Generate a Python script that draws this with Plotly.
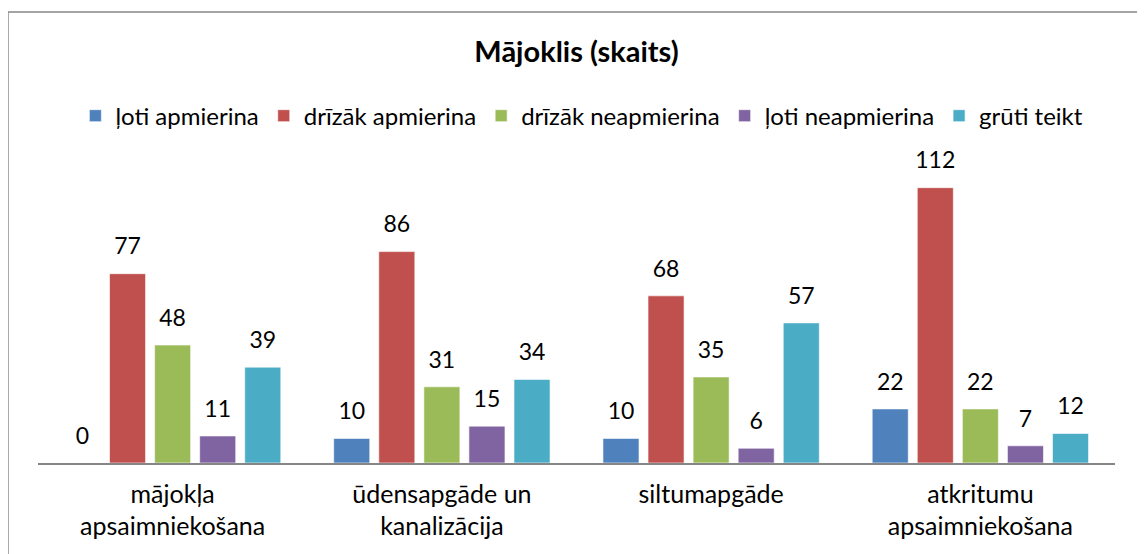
import plotly.graph_objects as go

# data
categories = ["mājokļa<br>apsaimniekošana", "ūdensapgāde un<br>kanalizācija",
              "siltumapgāde", "atkritumu<br>apsaimniekošana"]
series_names = ["ļoti apmierina", "drīzāk apmierina", "drīzāk neapmierina",
                "ļoti neapmierina", "grūti teikt"]
loti_apmierina = [0, 10, 10, 22]
drizak_apmierina = [77, 86, 68, 112]
drizak_neapmierina = [48, 31, 35, 22]
loti_neapmierina = [11, 15, 6, 7]
gruti_teikt = [39, 34, 57, 12]

values = [loti_apmierina, drizak_apmierina, drizak_neapmierina,
          loti_neapmierina, gruti_teikt]
colors = ["#4F81BD", "#C0504D", "#9BBB59", "#8064A2", "#4BACC6"]

font = "Lato, Liberation Sans, Arial"

fig = go.Figure()
for name, vals, col in zip(series_names, values, colors):
    fig.add_trace(go.Bar(
        x=categories, y=vals, name=name,
        marker=dict(color=col, line=dict(color="rgba(255,255,255,0.6)", width=1)),
        cliponaxis=False,
    ))
# value labels, grouped the same way as the bars
for name, vals in zip(series_names, values):
    fig.add_trace(go.Scatter(
        x=categories, y=vals, mode="markers+text", text=[str(v) for v in vals],
        textposition="top center", showlegend=False, hoverinfo="skip",
        marker=dict(size=20, color="rgba(0,0,0,0)"),
        textfont=dict(size=23, color="#000000", family=font),
        cliponaxis=False,
    ))

fig.update_layout(
    width=1137, height=546,
    paper_bgcolor="white", plot_bgcolor="white",
    font=dict(family=font, size=22, color="#000000"),
    title=dict(text="<b>Mājoklis (skaits)</b>", x=0.5, xanchor="center",
               y=1 - 44 / 546, yanchor="middle", font=dict(size=29)),
    barmode="group", bargap=0.163, bargroupgap=0.2,
    scattermode="group", scattergap=0.163,
    margin=dict(l=30, r=30, t=160, b=91),
    showlegend=True,
    legend=dict(orientation="h", x=0.505, xanchor="center", y=1.176,
                yanchor="middle", font=dict(size=24), itemclick=False,
                traceorder="normal", tracegroupgap=0, itemwidth=30),
    xaxis=dict(showline=True, linecolor="#868686", linewidth=1.5,
               ticks="", showgrid=False, tickfont=dict(size=25),
               ticklabelstandoff=8),
    yaxis=dict(range=[0, 120], visible=False, showgrid=False),
)

# outer chart border
fig.add_shape(type="rect", xref="paper", yref="paper",
              x0=-0.0279, x1=1.026, y0=-0.4, y1=1.529,
              line=dict(color="#868686", width=1.5), fillcolor="rgba(0,0,0,0)",
              layer="below")

fig.write_html("out.html")
